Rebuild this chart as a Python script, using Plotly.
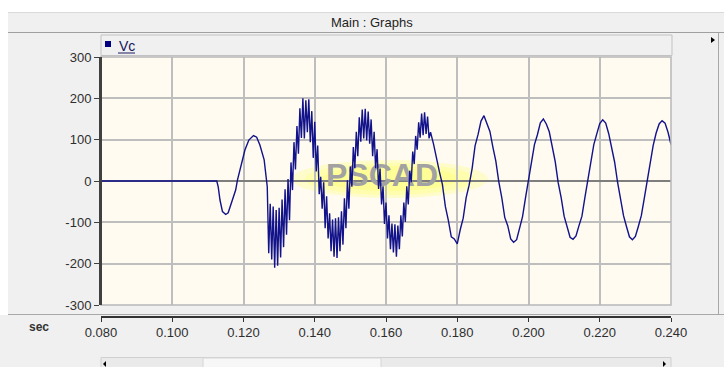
import plotly.graph_objects as go

# ---------------- data ----------------
t_pre = [0.0800, 0.1125, 0.1129, 0.1134, 0.1141, 0.1150, 0.1157, 0.1167, 0.1178,
         0.1183, 0.1193, 0.1204, 0.1215, 0.1228, 0.1237, 0.1246, 0.1258, 0.1264]
vc_pre = [0, 0, -14, -46, -74, -81, -77, -50, -22,
          2, 35, 75, 99, 110, 106, 87, 51, 10]

t_fault = [0.12667, 0.12708, 0.12750, 0.12792, 0.12833, 0.12875, 0.12917, 0.12958,
           0.13000, 0.13042, 0.13083, 0.13125, 0.13167, 0.13208, 0.13250, 0.13292,
           0.13333, 0.13375, 0.13417, 0.13458, 0.13500, 0.13542, 0.13583, 0.13625,
           0.13667, 0.13708, 0.13750, 0.13792, 0.13833, 0.13875, 0.13917, 0.13958,
           0.14000, 0.14042, 0.14083, 0.14125,
           0.14167, 0.14208, 0.14250, 0.14292, 0.14333, 0.14375, 0.14417, 0.14458,
           0.14500, 0.14542, 0.14583, 0.14625, 0.14667, 0.14708, 0.14750, 0.14792,
           0.14833, 0.14875, 0.14917, 0.14958,
           0.15000, 0.15042, 0.15083, 0.15125, 0.15167, 0.15208, 0.15250, 0.15292,
           0.15333, 0.15375, 0.15417, 0.15458, 0.15500, 0.15542, 0.15583, 0.15625,
           0.15667, 0.15708, 0.15750, 0.15792,
           0.15833, 0.15875, 0.15917, 0.15958, 0.16000, 0.16042, 0.16083, 0.16125,
           0.16167, 0.16208, 0.16250, 0.16292, 0.16333, 0.16375, 0.16417, 0.16458,
           0.16500, 0.16542, 0.16583, 0.16625,
           0.16667, 0.16708, 0.16750, 0.16792, 0.16833, 0.16875, 0.16917, 0.16958,
           0.17000, 0.17042, 0.17083, 0.17125, 0.17167, 0.17208]
vc_fault = [-14, -175, -55, -190, -62, -210, -70, -205,
            -65, -185, -45, -160, -20, -130, 5, -95,
            45, -22, 94, 28, 133, 66, 176, 104,
            200, 103, 195, 118, 198, 94, 169, 56,
            143, 23, 86, -32,
            10, -67, -3, -114, -37, -139, -78, -170,
            -93, -183, -90, -186, -88, -170, -73, -154,
            -42, -114, 2, -67,
            35, -14, 82, 31, 119, 60, 154, 95,
            173, 103, 175, 98, 168, 90, 149, 60,
            119, 31, 77, -19,
            30, -57, -13, -104, -52, -139, -83, -165,
            -103, -173, -105, -183, -108, -165, -83, -134,
            -52, -99, -13, -57,
            25, -3, 71, 41, 109, 76, 142, 105,
            163, 111, 166, 114, 156, 103]

t_post = [0.17250, 0.17333, 0.17417, 0.17500, 0.17583, 0.17667, 0.17750, 0.17833,
          0.17917, 0.18000, 0.18083, 0.18167, 0.18250,
          0.18333, 0.18417, 0.18500, 0.18583, 0.18667, 0.18750, 0.18833, 0.18917,
          0.19000, 0.19083, 0.19167, 0.19250, 0.19333, 0.19417, 0.19500, 0.19583,
          0.19667, 0.19750, 0.19833, 0.19917,
          0.20000, 0.20083, 0.20167, 0.20250, 0.20333, 0.20417, 0.20500, 0.20583,
          0.20667, 0.20750, 0.20833, 0.20917, 0.21000, 0.21083, 0.21167, 0.21250,
          0.21333, 0.21417, 0.21500, 0.21583,
          0.21667, 0.21750, 0.21833, 0.21917, 0.22000, 0.22083, 0.22167, 0.22250,
          0.22333, 0.22417, 0.22500, 0.22583, 0.22667, 0.22750, 0.22833, 0.22917,
          0.23000, 0.23083, 0.23167, 0.23250,
          0.23333, 0.23417, 0.23500, 0.23583, 0.23667, 0.23750, 0.23833, 0.23917,
          0.24000]
vc_post = [118, 90, 52, 22, -8, -62, -95, -135,
           -140, -152, -118, -90, -40,
           -10, 30, 85, 112, 145, 158, 140, 120,
           82, 48, -2, -40, -88, -108, -140, -148,
           -142, -110, -86, -40,
           3, 40, 88, 112, 141, 150, 138, 119,
           80, 47, -4, -40, -85, -109, -136, -141,
           -133, -108, -85, -40,
           4, 42, 88, 114, 139, 148, 140, 115,
           82, 46, -3, -42, -84, -110, -135, -142,
           -134, -110, -84, -42,
           3, 44, 86, 116, 138, 146, 140, 118,
           88]

x_ticks = [0.080, 0.100, 0.120, 0.140, 0.160, 0.180, 0.200, 0.220, 0.240]
x_tick_text = ["0.080", "0.100", "0.120", "0.140", "0.160", "0.180", "0.200", "0.220", "0.240"]
y_ticks = [-300, -200, -100, 0, 100, 200, 300]
y_tick_text = ["-300", "-200", "-100", "0", "100", "200", "300"]

t_all = t_pre + t_fault + t_post
vc_all = vc_pre + vc_fault + vc_post

# ---------------- geometry helpers ----------------
W, H = 724, 367
PL, PR, PT, PB = 101, 671, 57, 305


def px(x):
    return x / W


def py(y):
    return 1 - y / H


def tx(x):  # pixel -> time
    return 0.08 + (x - PL) / (PR - PL) * 0.16


def vy(y):  # pixel -> value
    return 300 - (y - PT) / (PB - PT) * 600


FONT = "Liberation Sans"

fig = go.Figure()

# watermark text (under the trace)
fig.add_trace(go.Scatter(
    x=[tx(382)], y=[vy(178)], mode="text", text=["<b>PSCAD</b>"],
    textfont=dict(family=FONT, size=32, color="#A2A2A2"),
    hoverinfo="skip", showlegend=False, xaxis="x", yaxis="y"))

fig.add_trace(go.Scatter(
    x=t_all, y=vc_all, mode="lines", name="Vc",
    line=dict(color="#12128A", width=1.4),
    xaxis="x2", yaxis="y", showlegend=False, hoverinfo="skip"))

shapes = []
# white strips at top / left
shapes.append(dict(type="rect", xref="paper", yref="paper", x0=0, x1=1, y0=py(12), y1=1,
                   fillcolor="#FFFFFF", line=dict(width=0), layer="below"))
shapes.append(dict(type="rect", xref="paper", yref="paper", x0=0, x1=px(8), y0=py(315), y1=1,
                   fillcolor="#FFFFFF", line=dict(width=0), layer="below"))
# title bar lines
shapes.append(dict(type="line", xref="paper", yref="paper", x0=px(8), x1=1, y0=py(12.5), y1=py(12.5),
                   line=dict(color="#DADADA", width=1)))
shapes.append(dict(type="line", xref="paper", yref="paper", x0=px(8), x1=1, y0=py(32.5), y1=py(32.5),
                   line=dict(color="#A0A0A0", width=1)))
# legend box
shapes.append(dict(type="rect", xref="paper", yref="paper", x0=px(101), x1=px(672), y0=py(55.5), y1=py(35),
                   fillcolor="#F0F0F0", line=dict(color="#C2C2C2", width=1)))
shapes.append(dict(type="rect", xref="paper", yref="paper", x0=px(105), x1=px(111), y0=py(47), y1=py(41),
                   fillcolor="#000080", line=dict(width=0)))
shapes.append(dict(type="line", xref="paper", yref="paper", x0=px(118), x1=px(135), y0=py(53), y1=py(53),
                   line=dict(color="#1A1A60", width=1)))
# separator between graph and time axis
shapes.append(dict(type="line", xref="paper", yref="paper", x0=px(8), x1=1, y0=py(314.5), y1=py(314.5),
                   line=dict(color="#A8A8A8", width=1)))
# right side line and arrow
shapes.append(dict(type="line", xref="paper", yref="paper", x0=px(718.5), x1=px(718.5), y0=py(314), y1=py(33),
                   line=dict(color="#A8A8A8", width=1)))
shapes.append(dict(type="path", xref="paper", yref="paper",
                   path=f"M {px(711)},{py(37)} L {px(715)},{py(40)} L {px(711)},{py(43)} Z",
                   fillcolor="#000000", line=dict(width=0)))
# plot border
shapes.append(dict(type="rect", xref="paper", yref="paper", x0=px(PL), x1=px(PR), y0=py(PB), y1=py(PT),
                   line=dict(color="#B8B8B8", width=1.5)))
shapes.append(dict(type="line", xref="paper", yref="paper", x0=px(PL), x1=px(PL), y0=py(PB), y1=py(PT),
                   line=dict(color="#404040", width=2)))
# scrollbar
shapes.append(dict(type="rect", xref="paper", yref="paper", x0=px(101), x1=px(671), y0=py(368), y1=py(357.5),
                   fillcolor="#EAEAEA", line=dict(color="#D0D0D0", width=1)))
shapes.append(dict(type="rect", xref="paper", yref="paper", x0=px(203), x1=px(381), y0=py(368), y1=py(358),
                   fillcolor="#F7F7F7", line=dict(color="#D6D6D6", width=1)))
shapes.append(dict(type="path", xref="paper", yref="paper",
                   path=f"M {px(106)},{py(361)} L {px(103)},{py(364)} L {px(106)},{py(367)} Z",
                   fillcolor="#000000", line=dict(width=0)))
shapes.append(dict(type="path", xref="paper", yref="paper",
                   path=f"M {px(663)},{py(361)} L {px(666)},{py(364)} L {px(663)},{py(367)} Z",
                   fillcolor="#000000", line=dict(width=0)))
# watermark glow (data-referenced, below grid)
for (x0, x1, y0, y1, op) in [(292, 488, 160, 198, 0.25), (305, 475, 163, 195, 0.28), (322, 458, 166, 191, 0.3)]:
    shapes.append(dict(type="circle", xref="x", yref="y", x0=tx(x0), x1=tx(x1), y0=vy(y1), y1=vy(y0),
                       fillcolor="#FFFF60", opacity=op, line=dict(width=0), layer="below"))

annotations = [
    dict(text="Main : Graphs", xref="paper", yref="paper", x=px(372), y=py(22), showarrow=False,
         font=dict(family=FONT, size=13, color="#1E1E1E"), xanchor="center", yanchor="middle"),
    dict(text="Vc", xref="paper", yref="paper", x=px(117.5), y=py(45.5), showarrow=False,
         font=dict(family=FONT, size=14, color="#14145A"), xanchor="left", yanchor="middle"),
    dict(text="<b>sec</b>", xref="paper", yref="paper", x=px(39), y=py(327), showarrow=False,
         font=dict(family=FONT, size=12, color="#333333"), xanchor="center", yanchor="middle"),
]

tickfont = dict(family=FONT, size=13, color="#2E2E2E")

fig.update_layout(
    width=W, height=H, margin=dict(l=0, r=0, t=0, b=0, pad=0, autoexpand=False),
    paper_bgcolor="#F0F0F0", plot_bgcolor="#FFFBF0", showlegend=False,
    shapes=shapes, annotations=annotations,
    xaxis=dict(domain=[px(PL), px(PR)], range=[0.08, 0.24], tickvals=x_ticks,
               showticklabels=False, ticks="", showgrid=True, gridcolor="#BEBEBE", gridwidth=2,
               zeroline=False, showline=False, fixedrange=True, automargin=False),
    xaxis2=dict(overlaying="x", anchor="free", position=py(317), range=[0.08, 0.24],
                tickvals=x_ticks, ticktext=x_tick_text, ticks="outside", ticklen=4, tickwidth=1,
                tickcolor="#333333", showline=True, linecolor="#333333", linewidth=1.5,
                showgrid=False, zeroline=False, tickfont=tickfont, fixedrange=True, automargin=False),
    yaxis=dict(domain=[py(PB), py(PT)], range=[-300, 300], tickvals=y_ticks, ticktext=y_tick_text,
               ticks="outside", ticklen=5, tickwidth=1, tickcolor="#404040",
               showline=True, linecolor="#404040", linewidth=2,
               showgrid=True, gridcolor="#BEBEBE", gridwidth=2,
               zeroline=True, zerolinecolor="#7E7E7E", zerolinewidth=2,
               tickfont=tickfont, fixedrange=True, automargin=False),
)

fig.write_html("out.html", config={"displayModeBar": False},
               post_script="document.body.style.margin='0';document.body.style.overflow='hidden';")
